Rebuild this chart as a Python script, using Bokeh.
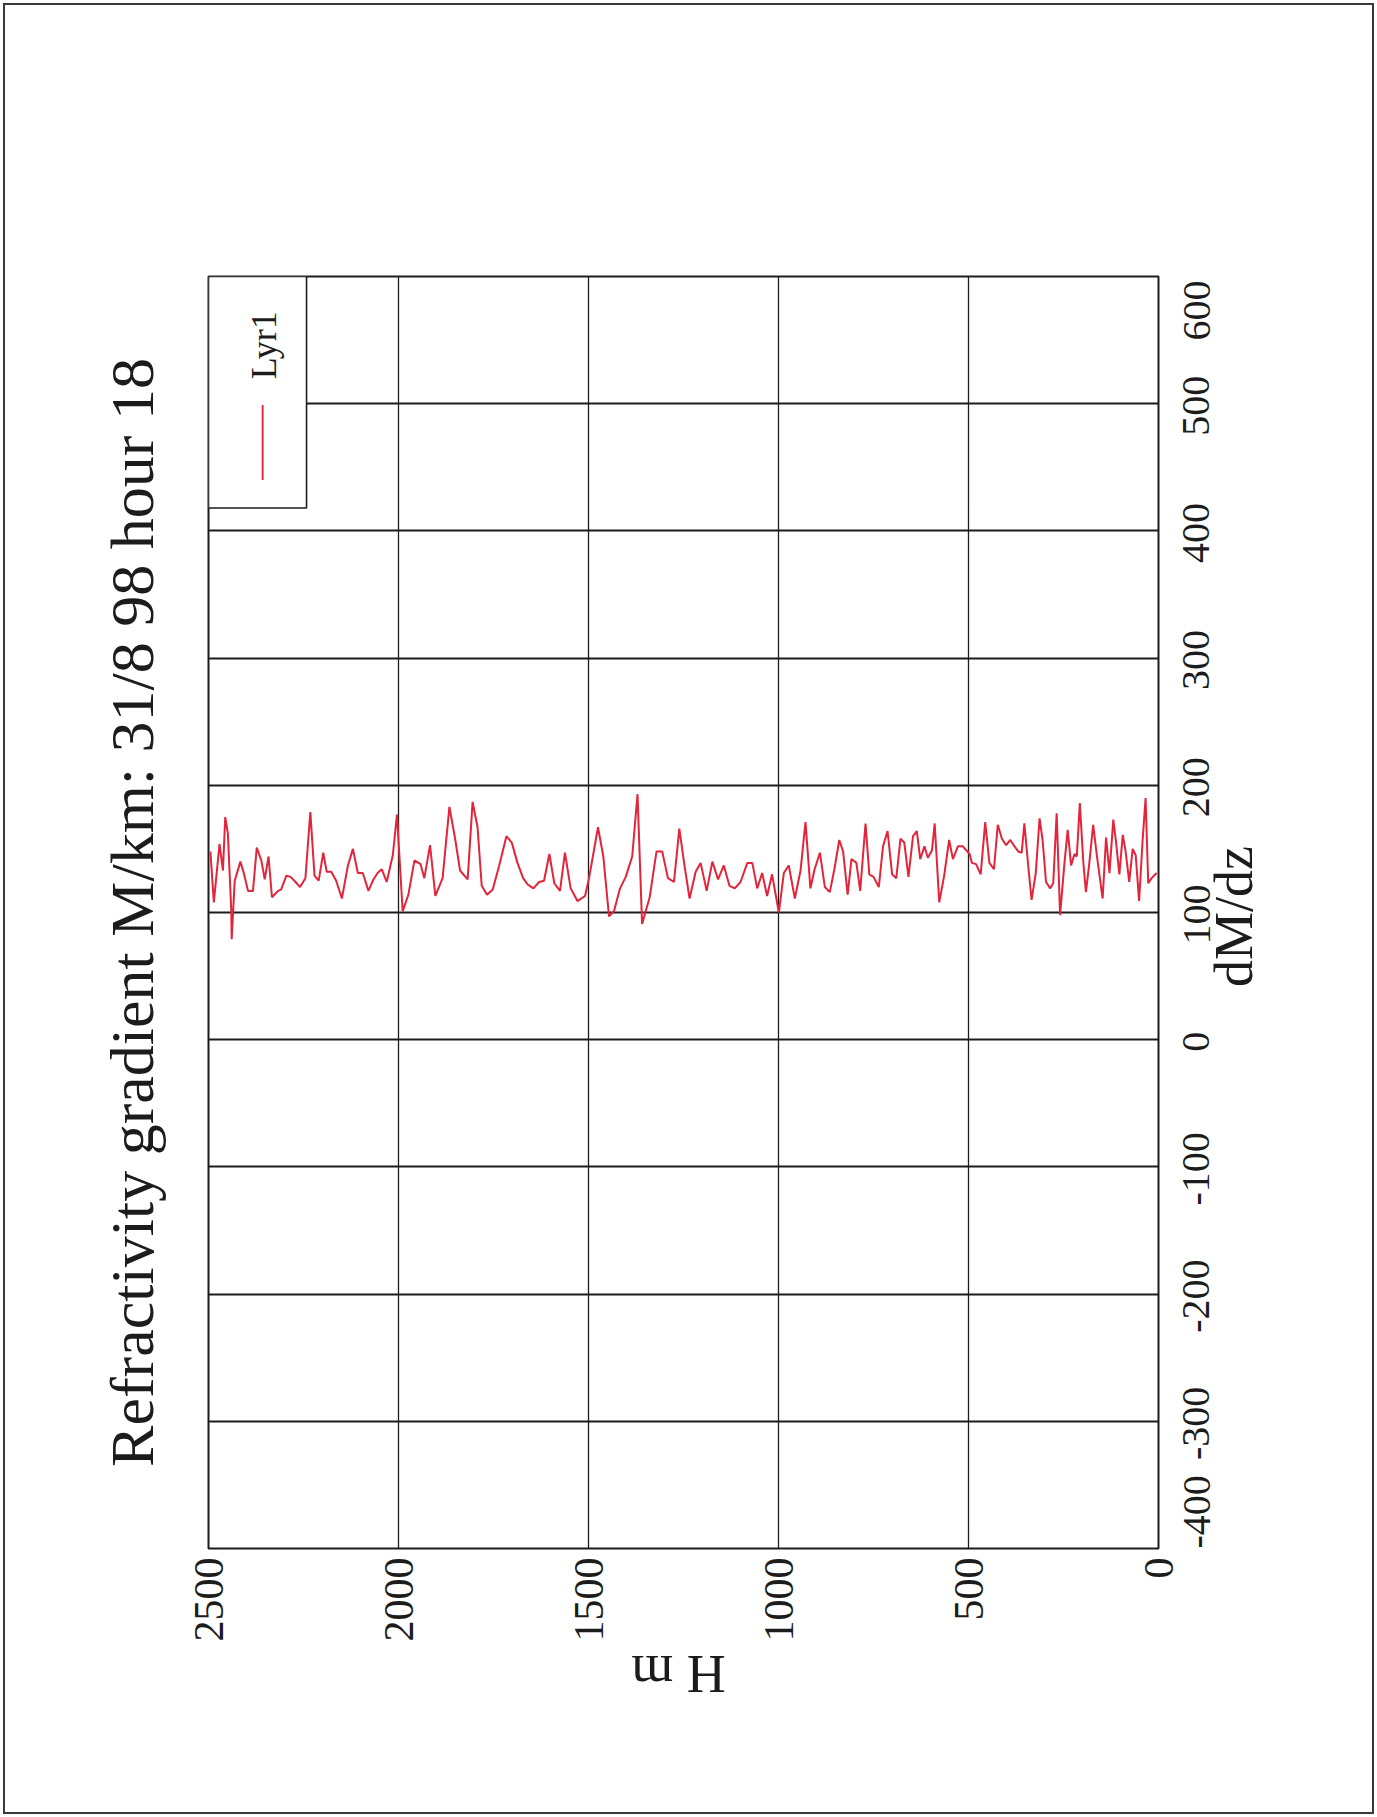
import math
from bokeh.plotting import figure
from bokeh.models import (Range1d, FixedTicker, Label, BoxAnnotation,
                          LinearAxis, CustomJSTickFormatter)
from bokeh.embed import file_html
from bokeh.resources import INLINE

# ---- data (height H in m, refractivity gradient dM/dz) ----
H_M = [2495, 2486, 2471, 2462, 2456, 2449, 2440, 2439, 2431, 2416,
       2408, 2396, 2383, 2373, 2361, 2352, 2342, 2333, 2317, 2309,
       2295, 2284, 2271, 2259, 2245, 2232, 2221, 2210, 2198, 2189,
       2177, 2164, 2149, 2133, 2120, 2107, 2094, 2079, 2066, 2055,
       2044, 2031, 2015, 2004,
       1989, 1974, 1958, 1942, 1932, 1917, 1903, 1884, 1866, 1851,
       1838, 1818, 1805, 1792, 1781, 1767, 1752, 1735, 1716, 1702,
       1687, 1672, 1660, 1645, 1630, 1617, 1603, 1590, 1575, 1562,
       1547, 1529, 1509,
       1498, 1475, 1461, 1446, 1433, 1417, 1402, 1385, 1371, 1359,
       1339, 1321, 1306, 1291, 1275, 1261, 1247, 1234, 1218, 1205,
       1189, 1174, 1159, 1144, 1129, 1115, 1100, 1082, 1069, 1056,
       1043, 1030, 1017, 999,
       986, 973, 957, 942, 929, 916, 905, 891, 878, 865,
       853, 840, 830, 818, 808, 795, 785, 771, 761, 750,
       736, 725, 713, 701, 690, 679, 669, 658, 646, 636,
       627, 616, 607, 596, 589, 577, 564, 551, 541, 528,
       515, 497,
       491, 480, 468, 456, 445, 433, 423, 412, 401, 390,
       379, 369, 360, 353, 342, 334, 323, 313, 305, 296,
       285, 277, 268, 259, 248, 239, 230, 221, 215, 207,
       198, 191, 182, 172, 161, 147, 138, 129, 119, 112,
       103, 94, 87, 77, 68, 60, 51, 42, 34, 27,
       18, 5]

DMDZ = [148, 108, 154, 133, 175, 162, 101, 79, 125, 140,
        132, 117, 117, 151, 141, 126, 144, 112, 117, 118,
        129, 128, 124, 120, 127, 179, 129, 125, 147, 132,
        132, 125, 111, 137, 150, 131, 131, 117, 126, 131,
        134, 124, 145, 177,
        101, 114, 141, 138, 127, 153, 113, 127, 183, 158,
        133, 126, 187, 167, 121, 114, 118, 137, 160, 155,
        139, 127, 122, 119, 124, 125, 146, 123, 117, 147,
        119, 109, 113,
        128, 167, 144, 97, 101, 119, 128, 144, 193, 91,
        112, 148, 148, 127, 124, 166, 136, 111, 132, 139,
        117, 140, 126, 137, 121, 119, 124, 139, 139, 119,
        131, 113, 130, 100,
        131, 137, 111, 133, 171, 119, 134, 147, 120, 116,
        134, 157, 148, 114, 142, 139, 117, 170, 130, 128,
        120, 152, 164, 130, 127, 158, 155, 128, 160, 164,
        142, 152, 143, 149, 170, 108, 129, 157, 142, 152,
        152, 146,
        139, 138, 130, 171, 139, 134, 169, 158, 153, 157,
        152, 148, 147, 170, 134, 110, 131, 174, 157, 124,
        119, 123, 178, 98, 137, 165, 137, 146, 144, 186,
        140, 116, 139, 169, 142, 111, 159, 131, 173, 156,
        130, 161, 149, 124, 150, 145, 109, 156, 190, 123,
        127, 131]

H_TICKS = [0, 500, 1000, 1500, 2000, 2500]
H_TICK_LABELS = ["0", "500", "1000", "1500", "2000", "2500"]
D_TICKS = [-400, -300, -200, -100, 0, 100, 200, 300, 400, 500, 600]
D_TICK_LABELS = ["-400", "-300", "-200", "-100", "0", "100", "200", "300", "400", "500", "600"]

TITLE = "Refractivity gradient M/km: 31/8 98 hour 18"
H_LABEL = "H m"
D_LABEL = "dM/dz"
SERIES_NAME = "Lyr1"

FONT = "Liberation Serif"
INK = "#1c1c1c"
RED = "#e3243b"

# ---- layout (the scanned sheet is turned a quarter turn) ----
H_START, H_END = 2500, 0
D_START, D_END = -400, 600
FRAME_W, FRAME_H = 950, 1272
PX_PER_H = FRAME_W / abs(H_END - H_START)
PX_PER_D = FRAME_H / (D_END - D_START)

# approximate advance widths (em) of the serif face, used to centre rotated labels
ADV = {"-": 0.333, " ": 0.25, "/": 0.278, "H": 0.722, "M": 0.889, "d": 0.5,
       "m": 0.778, "z": 0.444}


def half_len(text, size):
    return 2 + 0.5 * size * sum(ADV.get(c, 0.5) for c in text)


TICK_FS = 40
d_label_pos = []
for v, t in zip(D_TICKS, D_TICK_LABELS):
    h = half_len(t, TICK_FS) / PX_PER_D
    # rotated labels start at their anchor; keep each one inside the axis span
    d_label_pos.append(min(max(D_START, v - h), D_END - 2 * h))

AXT_FS = 54
d_title_center = 98.4
d_title_pos = d_title_center - half_len(D_LABEL, AXT_FS) / PX_PER_D
h_title_center = 1258
h_title_pos = h_title_center + half_len(H_LABEL, AXT_FS) / PX_PER_H

p = figure(width=1377, height=1817,
           x_range=Range1d(H_START, H_END), y_range=Range1d(D_START, D_END),
           x_axis_location="below", y_axis_location="right",
           title=TITLE, title_location="left",
           output_backend="svg", toolbar_location=None,
           min_border_left=208, min_border_right=219,
           min_border_top=276, min_border_bottom=269)
p.background_fill_color = "white"
p.border_fill_alpha = 0
p.outline_line_color = INK
p.outline_line_width = 2
p.styles = {"outline": "2px solid #3a3a3a", "outline-offset": "-5px"}

p.title.align = "center"
p.title.text_font = FONT
p.title.text_font_size = "62px"
p.title.text_font_style = "normal"
p.title.text_color = INK
if "standoff" in p.title.properties():
    p.title.standoff = 86


def plain(axis):
    axis.axis_line_color = None
    axis.major_tick_line_color = None
    axis.minor_tick_line_color = None
    axis.major_tick_out = 0
    axis.major_tick_in = 0
    axis.minor_tick_out = 0
    axis.minor_tick_in = 0
    axis.major_label_text_font = FONT
    axis.major_label_text_color = INK


def lookup_formatter(pos, labels):
    return CustomJSTickFormatter(
        args=dict(pos=list(pos), labels=list(labels)),
        code="""
        let best = 0;
        for (let i = 0; i < pos.length; i++) {
            if (Math.abs(pos[i] - tick) < Math.abs(pos[best] - tick)) best = i;
        }
        return labels[best];
        """)


# H axis (bottom)
xa = p.xaxis[0]
plain(xa)
xa.ticker = FixedTicker(ticks=H_TICKS)
xa.formatter = lookup_formatter(H_TICKS, H_TICK_LABELS)
xa.major_label_orientation = math.pi / 2
xa.major_label_text_font_size = "42px"
xa.major_label_standoff = 9

xa2 = LinearAxis(ticker=FixedTicker(ticks=[h_title_pos]),
                 formatter=lookup_formatter([h_title_pos], [H_LABEL]))
plain(xa2)
xa2.major_label_orientation = math.pi
xa2.major_label_text_font_size = f"{AXT_FS}px"
xa2.major_label_standoff = 29
p.add_layout(xa2, "below")

# dM/dz axis (right)
ya = p.yaxis[0]
plain(ya)
ya.ticker = FixedTicker(ticks=d_label_pos)
ya.formatter = lookup_formatter(d_label_pos, D_TICK_LABELS)
ya.major_label_orientation = math.pi / 2
ya.major_label_text_font_size = f"{TICK_FS}px"
ya.major_label_standoff = 38

ya2 = LinearAxis(ticker=FixedTicker(ticks=[d_title_pos]),
                 formatter=lookup_formatter([d_title_pos], [D_LABEL]))
plain(ya2)
ya2.major_label_orientation = math.pi / 2
ya2.major_label_text_font_size = f"{AXT_FS}px"
ya2.major_label_standoff = 9
p.add_layout(ya2, "right")

p.xgrid.ticker = FixedTicker(ticks=H_TICKS)
p.xgrid.grid_line_color = INK
p.xgrid.grid_line_width = 1.3
p.ygrid.ticker = FixedTicker(ticks=D_TICKS)
p.ygrid.grid_line_color = INK
p.ygrid.grid_line_width = 2

p.line(H_M, DMDZ, line_color=RED, line_width=2)

# legend (drawn turned like the rest of the sheet)
p.add_layout(BoxAnnotation(left=2500, right=2242, top=600, bottom=418,
                           fill_color="white", fill_alpha=1,
                           line_color=INK, line_alpha=1, line_width=1.6))
p.add_layout(BoxAnnotation(left=2360, right=2355, top=499, bottom=440,
                           fill_color=RED, fill_alpha=1, line_color=None))
p.add_layout(Label(x=2355, y=546, text=SERIES_NAME, angle=math.pi / 2,
                   text_align="center", text_baseline="middle",
                   text_font=FONT, text_font_size="36px", text_color=INK))

open("out.html", "w").write(file_html(p, INLINE))
